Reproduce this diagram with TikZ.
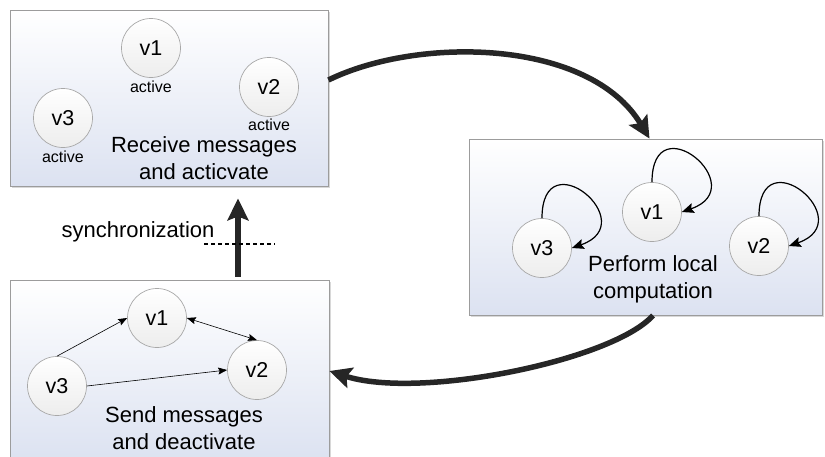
\documentclass[tikz,border=0pt]{standalone}
\usepackage{fontspec}
\setmainfont{Liberation Sans}
\usepackage{xcolor}
\usetikzlibrary{arrows.meta, positioning, shadows}

\definecolor{panelline}{HTML}{9C9C9C}
\definecolor{panelfill}{HTML}{DCE2F1}
\definecolor{vertexline}{HTML}{A8A8A8}
\definecolor{vertexfill}{HTML}{EDEDED}
\definecolor{flowgray}{HTML}{262626}

\tikzset{
	panel/.style = {draw = panelline, line width = 0.8pt, top color = white, bottom color = panelfill,
		drop shadow = {shadow xshift = 2pt, shadow yshift = -2pt, fill = black!30, opacity = 0.5}},
	vertex/.style = {circle, draw = vertexline, line width = 0.7pt, top color = white, bottom color = vertexfill,
		minimum size = 59pt, inner sep = 0pt, font = \fontsize{21.5}{21.5}\selectfont},
	tag/.style = {font = \fontsize{16}{16}\selectfont},
	caption/.style = {align = center, font = \fontsize{22}{27}\selectfont},
	flow/.style = {draw = flowgray, line width = 5.5pt, -{Stealth[length = 22pt, width = 21pt, inset = 4pt]}},
	msg/.style = {line width = 0.6pt, -{Stealth[length = 9pt, width = 7pt, inset = 1.5pt]}},
	recur/.style = {line width = 1.2pt, -{Stealth[length = 12pt, width = 10pt, inset = 2pt]}}
}

\begin{document}
\begin{tikzpicture}[x = 1pt, y = -1pt]
	\useasboundingbox (0,0) rectangle (825,456);

	% the three stages
	\node [panel, minimum width = 318pt, minimum height = 176pt] (receive) at (169,98) {};
	\node [panel, minimum width = 353pt, minimum height = 176pt] (perform) at (645.5,227) {};
	\node [panel, minimum width = 319pt, minimum height = 180pt] (send) at (169.5,370) {};

	\begin{scope}
		\node [vertex] (r1) at (151,48) {v1};
		\node [vertex] (r2) at (269,87) {v2};
		\node [vertex] (r3) at (63,118) {v3};
		\node [tag, below = 0pt of r1] (r1tag) {active};
		\node [tag, below = -1pt of r2] (r2tag) {active};
		\node [tag, below = 0pt of r3] (r3tag) {active};
		\node [caption] (receivetext) at (204,158) {Receive messages\\and acticvate};
	\end{scope}

	\begin{scope}
		\node [vertex] (p1) at (652,212) {v1};
		\node [vertex] (p2) at (759,246) {v2};
		\node [vertex] (p3) at (542,248) {v3};
		\node [caption] (performtext) at (653,279) {Perform local\\computation};

		\foreach \v in {p1, p2, p3}
			\draw [recur] (\v.north) .. controls +(0,-80) and +(72,-25) .. (\v.east);
	\end{scope}

	\begin{scope}
		\node [vertex] (s1) at (157,318) {v1};
		\node [vertex] (s2) at (257,370) {v2};
		\node [vertex] (s3) at (57,386) {v3};
		\node [caption] (sendtext) at (184,428) {Send messages\\and deactivate};

		\draw [msg] (s3.north) -- (s1.west);
		\draw [msg, {Stealth[length = 9pt, width = 7pt, inset = 1.5pt]}-{Stealth[length = 9pt, width = 7pt, inset = 1.5pt]}] (s1.east) -- (s2.north);
		\draw [msg] (s3.east) -- (s2.west);
	\end{scope}

	% transitions between the stages
	\begin{scope}
		\draw [flow] ([yshift = 18pt]receive.east) .. controls +(90,-44) and +(-60,-100) .. ([xshift = 4pt]perform.north);
		\draw [flow] ([xshift = 7.5pt]perform.south) .. controls +(-40,45) and +(90,29) .. ([yshift = -1pt]send.east);
		\draw [flow] ([xshift = 68.5pt, yshift = 3pt]send.north) -- ([xshift = 69pt, yshift = -12pt]receive.south);
	\end{scope}

	\node [caption] (synctext) at (138,232) {synchronization};
	\draw [dashed, line width = 1.4pt, dash pattern = on 4pt off 3pt] (204,244) -- (275,244);
\end{tikzpicture}
\end{document}
